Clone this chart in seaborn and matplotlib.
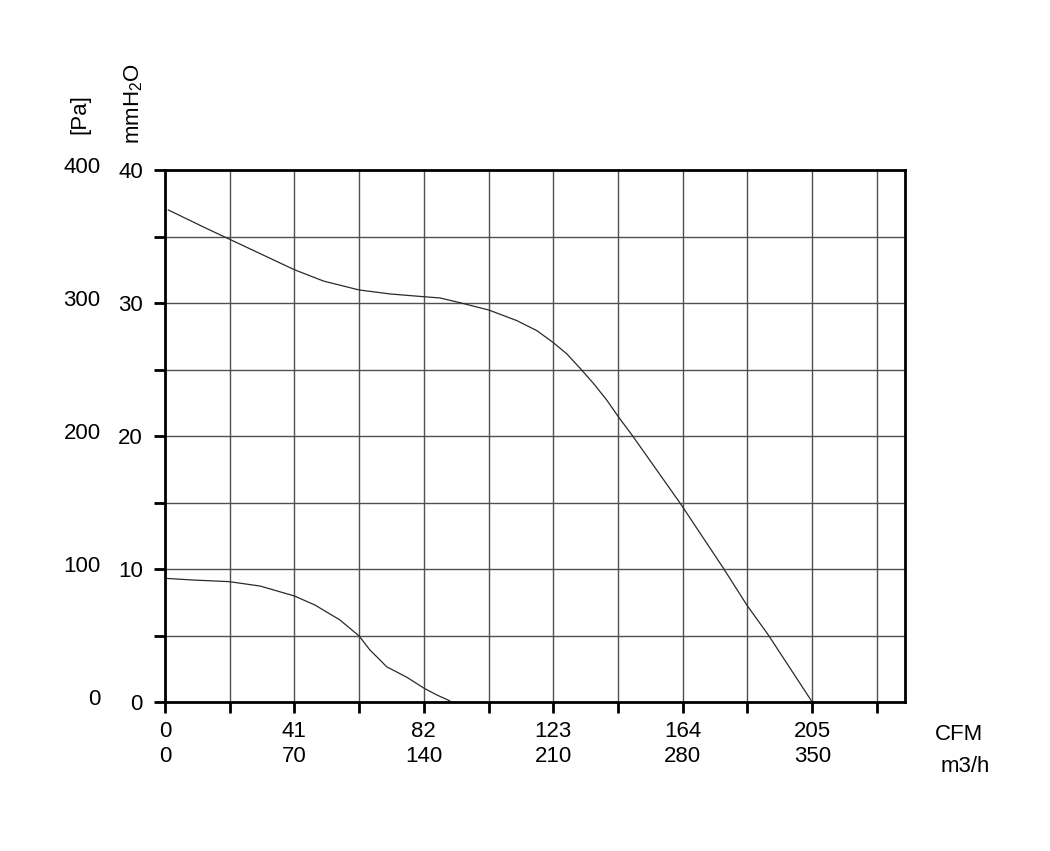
import matplotlib
matplotlib.use("Agg")
import matplotlib.pyplot as plt
import matplotlib.transforms as mtransforms
import numpy as np
import seaborn as sns

# ---------------------------------------------------------------------------
# Data, x in CFM, y in mmH2O
# ---------------------------------------------------------------------------
upper_cfm = [1.0, 13.2, 20.4, 41.0, 50.2, 61.5, 71.3, 82.1, 87.1, 93.5,
             102.6, 111.4, 117.8, 123.0, 127.3, 131.5, 135.7, 139.9, 143.6,
             147.9, 163.2, 176.9, 184.3, 191.1, 205.0]
upper_mmh2o = [37.0, 35.6, 34.8, 32.5, 31.65, 30.98, 30.68, 30.47, 30.38,
               30.02, 29.47, 28.68, 27.92, 27.02, 26.17, 25.09, 23.96, 22.71,
               21.45, 20.08, 14.94, 10.05, 7.29, 5.04, 0.0]

lower_cfm = [0.0, 9.0, 20.3, 30.1, 41.0, 47.5, 55.4, 61.5, 64.9, 68.1, 70.2,
             76.6, 82.1, 86.1, 90.1, 90.6]
lower_mmh2o = [9.3, 9.17, 9.05, 8.72, 7.97, 7.29, 6.17, 4.96, 3.91, 3.16, 2.65,
               1.86, 1.03, 0.53, 0.1, 0.0]

cfm_ticks = [0, 41, 82, 123, 164, 205]
m3h_labels = ["0", "70", "140", "210", "280", "350"]
mmh2o_ticks = [0, 10, 20, 30, 40]
pa_labels = ["0", "100", "200", "300", "400"]

X_MAX = 234.4
Y_MAX = 40
FS = 16

# ---------------------------------------------------------------------------
# Style
# ---------------------------------------------------------------------------
sns.set_theme(style="white")
plt.rcParams["font.family"] = ["Liberation Sans", "DejaVu Sans"]
plt.rcParams["mathtext.fontset"] = "custom"
plt.rcParams["mathtext.rm"] = "Liberation Sans"
plt.rcParams["text.color"] = "black"
plt.rcParams["xtick.color"] = "black"
plt.rcParams["ytick.color"] = "black"

fig = plt.figure(figsize=(10.5, 8.51), dpi=100)
ax = fig.add_axes([165 / 1050, 149 / 851, 740 / 1050, 532 / 851])

line_kw = dict(color="#2a2a2a", linewidth=0.9, sort=False, estimator=None)
sns.lineplot(x=upper_cfm, y=upper_mmh2o, ax=ax, **line_kw)
sns.lineplot(x=lower_cfm, y=lower_mmh2o, ax=ax, **line_kw)

ax.set_xlim(0, X_MAX)
ax.set_ylim(0, Y_MAX)

# grid every 20.5 CFM and 5 mmH2O
ax.set_xticks(cfm_ticks)
ax.set_xticks(np.arange(20.5, X_MAX, 41), minor=True)
ax.set_yticks(mmh2o_ticks)
ax.set_yticks(np.arange(5, Y_MAX, 10), minor=True)
ax.grid(True, which="both", color="#505050", linewidth=1.0)
ax.set_axisbelow(True)

ax.set_xticklabels([f"{c}\n{m}" for c, m in zip(cfm_ticks, m3h_labels)],
                   fontsize=FS, linespacing=1.2)
ax.set_yticklabels([str(v) for v in mmh2o_ticks], fontsize=FS)

ax.tick_params(axis="both", which="both", direction="out", length=8,
               width=2.0, color="black", left=True, bottom=True)
ax.tick_params(axis="y", which="major", pad=8)
ax.tick_params(axis="x", which="major", pad=6)

for spine in ax.spines.values():
    spine.set_visible(True)
    spine.set_color("black")
    spine.set_linewidth(2.0)

# Pa labels on an outer column
trans = mtransforms.blended_transform_factory(ax.transAxes, ax.transData)
for v, lab in zip(mmh2o_ticks, pa_labels):
    ax.text(-0.087, v + 0.2, lab, transform=trans, ha="right", va="center",
            fontsize=FS)

# axis titles
fig.text(80 / 1050, 1 - 114 / 851, "[Pa]", rotation=90, ha="center",
         va="center", fontsize=FS)
fig.text(134 / 1050, 1 - 104 / 851, r"mmH$_\mathregular{2}$O", rotation=90,
         ha="center", va="center", fontsize=FS)
fig.text(935 / 1050, 1 - 735 / 851, "CFM", ha="left", va="center", fontsize=FS)
fig.text(941 / 1050, 1 - 767 / 851, "m3/h", ha="left", va="center",
         fontsize=FS)

fig.savefig("out.png", dpi=100, facecolor="white")
